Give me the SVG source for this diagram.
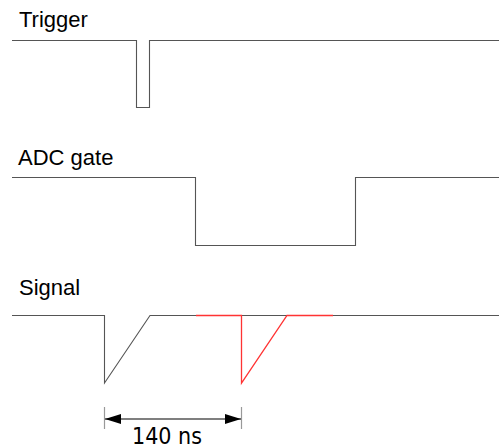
<svg xmlns="http://www.w3.org/2000/svg" width="499" height="445" viewBox="0 0 499 445">
<style>
.lbl{font-family:"Liberation Sans",Arial,sans-serif;font-size:22px;fill:#000}
.tr{fill:none;stroke:#555;stroke-width:1.1}
.red{fill:none;stroke:#f33;stroke-width:1.3}
.dim{fill:none;stroke:#000;stroke-width:1.2}
.tick{fill:none;stroke:#999;stroke-width:1.2}
</style>
<defs>
<marker id="ah" viewBox="0 0 16 10" refX="16" refY="5" markerWidth="16" markerHeight="10" markerUnits="userSpaceOnUse" orient="auto-start-reverse">
<path d="M0,0 L16,5 L0,10 Z" fill="#000"/>
</marker>
</defs>
<g id="trigger">
<text class="lbl" x="19" y="27">Trigger</text>
<polyline class="tr" points="12,40.5 136.5,40.5 136.5,107.5 149.5,107.5 149.5,40.5 499,40.5"/>
</g>
<g id="adc-gate">
<text class="lbl" x="18" y="165">ADC gate</text>
<polyline class="tr" points="12,177.5 195.5,177.5 195.5,245.5 355.5,245.5 355.5,177.5 499,177.5"/>
</g>
<g id="signal">
<text class="lbl" x="19" y="295">Signal</text>
<polyline class="tr" points="12,315.5 104.5,315.5 104.5,383 150,315.5 499,315.5"/>
<polyline class="red" points="196,315.5 241.5,315.5 241.5,383 287,315.5 333,315.5"/>
</g>
<g id="connectors">
<line class="tick" x1="104.5" y1="407" x2="104.5" y2="429"/>
<line class="tick" x1="241.5" y1="407" x2="241.5" y2="429"/>
<line class="dim" x1="105" y1="419" x2="241" y2="419" marker-start="url(#ah)" marker-end="url(#ah)"/>
<text x="132" y="444" textLength="70" lengthAdjust="spacingAndGlyphs" style="font-family:'DejaVu Sans',sans-serif;font-size:23px;fill:#000">140 ns</text>
</g>
</svg>
